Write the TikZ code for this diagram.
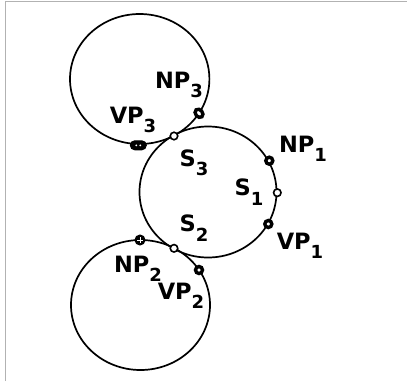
\documentclass[tikz,border=0pt]{standalone}
\usepackage{fontspec}
\setmainfont{DejaVu Sans}
\usetikzlibrary{shapes.geometric}
\newcommand\sublab[2]{#1\raisebox{-9.5pt}{\fontsize{18}{18}\selectfont #2}}
\begin{document}
\begin{tikzpicture}[x=1pt,y=-1pt,line width=1.7pt,
  ring/.style={circle,draw,inner sep=0pt,minimum size=7.5pt,line width=1.6pt,fill=white},
  thickring/.style={circle,draw,inner sep=0pt,minimum size=7pt,line width=3.4pt,fill=white},
  blob/.style={draw,fill=black,inner sep=0pt,line width=1pt},
  lab/.style={font=\bfseries\fontsize{22.5}{22.5}\selectfont,inner sep=0pt}]
\useasboundingbox (0,0) rectangle (407,381);
\draw[black!30,line width=1.5pt] (5.5,381) -- (5.5,1.5) -- (407,1.5);
% circles
\draw (208,192) ellipse [x radius=68.5pt, y radius=65.5pt];
\draw (139.7,79) ellipse [x radius=69.7pt, y radius=65pt];
\draw (140.5,305) ellipse [x radius=69.5pt, y radius=65pt];
% markers
\node[ring] (s1) at (277.3,192.7) {};
\node[ring] (s3) at (174,136) {};
\node[ring] (s2) at (174,248.3) {};
\node[thickring] (np1) at (269.3,160.7) {};
\node[thickring] (vp1) at (268.3,224) {};
\node[thickring] (vp2) at (199,270) {};
\node[thickring,ellipse,rotate=-50,minimum width=9pt,minimum height=7pt] (np3) at (199,113.3) {};
\node[blob,rounded corners=4.5pt,minimum width=16pt,minimum height=9pt] (vp3) at (138.3,145.3) {};
\fill[white] (136.3,145.3) circle (1pt) (140.3,145.3) circle (1pt);
\node[blob,circle,minimum size=10pt] (np2) at (140,240) {};
\draw[white,line width=0.7pt] (137.3,240) -- (142.7,240) (140,237.3) -- (140,242.7);
% labels
\node[lab] (lnp3) at (179,85) {\sublab{NP}{3}};
\node[lab] (lvp3) at (133,120) {\sublab{VP}{3}};
\node[lab] (ls3) at (194,163) {\sublab{S}{3}};
\node[lab] (ls1) at (249,192) {\sublab{S}{1}};
\node[lab] (lnp1) at (303,149) {\sublab{NP}{1}};
\node[lab] (lvp1) at (300,246) {\sublab{VP}{1}};
\node[lab] (ls2) at (194,228) {\sublab{S}{2}};
\node[lab] (lnp2) at (138,269) {\sublab{NP}{2}};
\node[lab] (lvp2) at (181,296) {\sublab{VP}{2}};
\end{tikzpicture}
\end{document}
